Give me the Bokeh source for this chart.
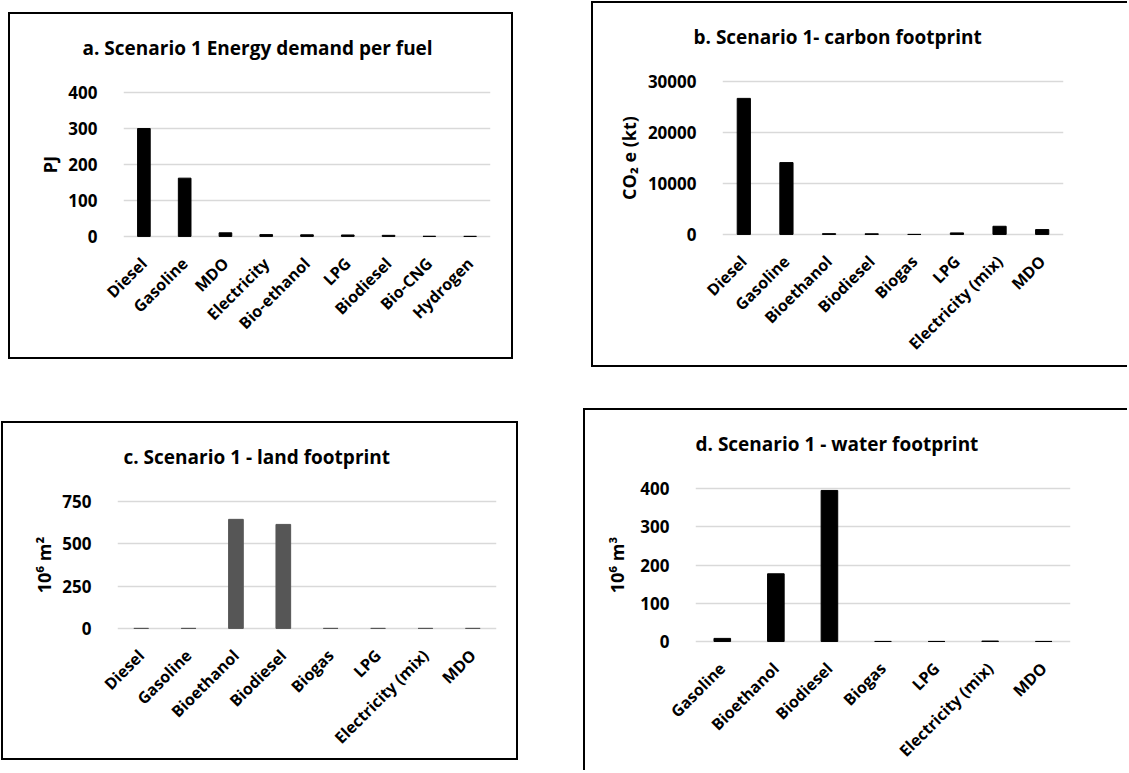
import math
from bokeh.plotting import figure
from bokeh.models import Range1d, FixedTicker, ColumnDataSource, Title
from bokeh.layouts import column, row
from bokeh.embed import file_html
from bokeh.resources import INLINE

FONT = "Open Sans"

# ---- data ----
a_fuels = ["Diesel", "Gasoline", "MDO", "Electricity", "Bio-ethanol", "LPG", "Biodiesel", "Bio-CNG", "Hydrogen"]
a_energy_pj = [300, 162, 10, 5, 4.5, 4, 3, 0.3, 0.1]
a_ticks = [0, 100, 200, 300, 400]

b_fuels = ["Diesel", "Gasoline", "Bioethanol", "Biodiesel", "Biogas", "LPG", "Electricity (mix)", "MDO"]
b_co2_kt = [26700, 14100, 150, 120, 0, 300, 1600, 950]
b_ticks = [0, 10000, 20000, 30000]

c_fuels = ["Diesel", "Gasoline", "Bioethanol", "Biodiesel", "Biogas", "LPG", "Electricity (mix)", "MDO"]
c_land_m2 = [0, 0, 645, 615, 0, 0, 0, 0]
c_ticks = [0, 250, 500, 750]

d_fuels = ["Gasoline", "Bioethanol", "Biodiesel", "Biogas", "LPG", "Electricity (mix)", "MDO"]
d_water_m3 = [8, 177, 395, 0, 0, 1, 0]
d_ticks = [0, 100, 200, 300, 400]

PAD = 3  # px of empty space above top tick / below zero


def panel(cats, vals, ticks, title, ylabel, color, canvas, frame, t_off,
          ylab_stand, styles, margin):
    cl, ct, cr, cb = canvas
    fl, ft, fr, fb = frame
    ymax = ticks[-1]
    fh = fb - ft
    unit = ymax / (fh - 2 * PAD)
    pad = PAD * unit
    st = {"box-sizing": "content-box"}
    st.update(styles)
    p = figure(x_range=cats, y_range=Range1d(-pad, ymax + pad),
               frame_width=fr - fl, frame_height=fh,
               output_backend="svg", toolbar_location=None,
               min_border_left=fl - cl, min_border_top=ft - ct,
               min_border_right=cr - fr, min_border_bottom=cb - fb,
               styles=st, margin=margin)
    src = ColumnDataSource(dict(cat=cats, val=vals))
    p.vbar(x="cat", top="val", width=0.31, source=src, fill_color=color,
           line_color=color)
    p.outline_line_color = None
    p.xgrid.grid_line_color = None
    p.ygrid.grid_line_color = "#d9d9d9"
    p.ygrid.grid_line_width = 1.5
    p.ygrid.ticker = FixedTicker(ticks=ticks)
    p.yaxis.ticker = FixedTicker(ticks=ticks)
    for ax in (p.xaxis[0], p.yaxis[0]):
        ax.axis_line_color = None
        ax.major_tick_line_color = None
        ax.minor_tick_line_color = None
        ax.major_label_text_font = FONT
        ax.major_label_text_font_style = "bold"
        ax.major_label_text_color = "black"
    p.yaxis.major_label_text_font_size = "17px"
    p.yaxis.major_label_standoff = 20
    p.yaxis.axis_label = ylabel
    p.yaxis.axis_label_text_font = FONT
    p.yaxis.axis_label_text_font_style = "bold"
    p.yaxis.axis_label_text_font_size = "18px"
    p.yaxis.axis_label_text_color = "black"
    p.yaxis.axis_label_standoff = ylab_stand
    p.xaxis.major_label_text_font_size = "16px"
    p.xaxis.major_label_orientation = math.pi / 4
    p.xaxis.major_label_standoff = 15
    # spacer between the frame and the chart title
    p.add_layout(Title(text=" ", text_font_size="1px", standoff=10), "above")
    p.title.text = title
    p.title.align = "left"
    p.title.offset = t_off
    p.title.standoff = 32
    p.title.text_font = FONT
    p.title.text_font_style = "bold"
    p.title.text_font_size = "19px"
    p.title.text_color = "black"
    return p


B = "2px solid black"
pa = panel(a_fuels, a_energy_pj, a_ticks, "a. Scenario 1 Energy demand per fuel", "PJ",
           "black", (10, 14, 511, 357), (123, 89, 486, 235), -41, 3,
           {"border": B}, (12, 0, 0, 8))
pb = panel(b_fuels, b_co2_kt, b_ticks, "b. Scenario 1- carbon footprint", "CO\u2082 e (kt)",
           "black", (593, 3, 1127, 365), (722, 78, 1061, 233), -29, 4,
           {"border-left": B, "border-top": B, "border-bottom": B}, (1, 0, 0, 78))
pc = panel(c_fuels, c_land_m2, c_ticks, "c. Scenario 1 - land footprint", "10\u2076 m\u00b2",
           "#565656", (3, 423, 516, 758), (117, 497, 492, 626), 6, 3,
           {"border": B}, (54, 0, 0, 1))
pd = panel(d_fuels, d_water_m3, d_ticks, "d. Scenario 1 - water footprint", "10\u2076 m\u00b3",
           "black", (585, 410, 1127, 765), (695, 485, 1068, 642), 0, 8,
           {"border-left": B, "border-top": B}, (41, 0, 0, 65))

layout = column(row(pa, pb), row(pc, pd))
open("out.html", "w").write(file_html(layout, INLINE))
